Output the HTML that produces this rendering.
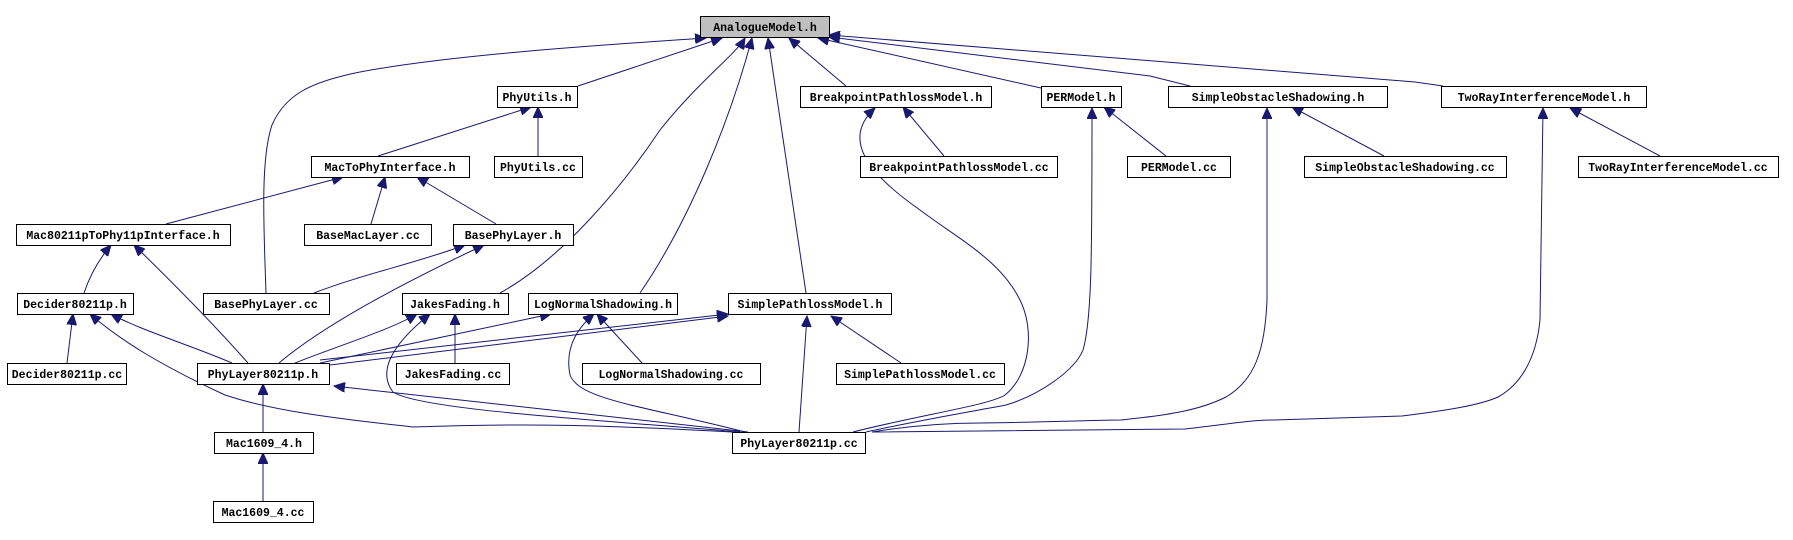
<!DOCTYPE html>
<html><head><meta charset="utf-8"><style>
html,body{margin:0;padding:0;background:#fff;}
svg{display:block}
text{font-family:"Liberation Mono","DejaVu Sans Mono",monospace;font-size:11.5px;fill:#000;font-weight:bold}
rect{fill:#fff;stroke:#000;stroke-width:1}
path{fill:none;stroke:#191970;stroke-width:1}
</style></head><body>
<svg width="1793" height="540" viewBox="0 0 1793 540" xmlns="http://www.w3.org/2000/svg">
<defs>
<marker id="a" markerUnits="userSpaceOnUse" markerWidth="12" markerHeight="10" refX="11" refY="5" orient="auto">
<path d="M0,0 L11,5 L0,10 Z" style="fill:#191970;stroke:#191970"/>
</marker>
</defs>
<g marker-end="url(#a)">
<path d="M578,86 L722,38"/>
<path d="M266,293 C264,230 260,160 272,125 C285,95 310,82 360,72 C450,55 600,45 706,38"/>
<path d="M500,293 C560,260 620,190 660,130 C700,80 735,55 745,38"/>
<path d="M640,293 C690,220 730,120 752,38"/>
<path d="M806,293 L768,38"/>
<path d="M846,86 L789,38"/>
<path d="M1041,88 L818,38"/>
<path d="M1190,86 L1150,76 L829,37"/>
<path d="M1443,86 L1415,82 L829,35"/>
<path d="M378,156 L531,107"/>
<path d="M538,156 L538,107"/>
<path d="M166,224 L343,177"/>
<path d="M371,224 L385,177"/>
<path d="M496,224 L417,177"/>
<path d="M84,293 C90,275 100,258 111,245"/>
<path d="M248,363 C210,320 170,280 134,245"/>
<path d="M314,293 C360,275 420,262 465,245"/>
<path d="M279,363 C330,320 420,275 484,245"/>
<path d="M67,363 L73,314"/>
<path d="M232,363 C190,345 140,330 111,314"/>
<path d="M732,432 C600,425 530,423 413,427 C330,418 270,410 225,395 C160,365 120,340 90,314"/>
<path d="M295,363 C340,345 390,330 417,314"/>
<path d="M455,363 L455,314"/>
<path d="M740,432 C600,420 420,410 393,392 C380,375 385,350 430,314"/>
<path d="M320,363 L551,314"/>
<path d="M642,363 L597,314"/>
<path d="M745,432 C640,405 580,400 570,375 C565,350 575,330 594,314"/>
<path d="M330,365 L728,316"/>
<path d="M320,360 L728,314"/>
<path d="M901,363 L831,316"/>
<path d="M799,432 L807,316"/>
<path d="M263,432 L263,384"/>
<path d="M748,432 C600,415 450,400 334,386"/>
<path d="M263,501 L263,453"/>
<path d="M944,156 L903,107"/>
<path d="M853,432 C920,415 990,405 1005,395 C1030,375 1035,330 1020,300 C1000,260 960,240 920,210 C870,175 840,140 875,108"/>
<path d="M1166,156 L1104,107"/>
<path d="M866,432 C920,420 980,410 1006,405 C1040,395 1075,370 1083,350 C1092,320 1092,250 1092,108"/>
<path d="M1384,156 L1292,107"/>
<path d="M872,432 C920,424 960,423 981,423 C1050,422 1100,420 1121,420 C1170,415 1200,410 1226,397 C1255,380 1265,350 1267,300 L1267,108"/>
<path d="M1660,156 L1570,108"/>
<path d="M872,432 C1000,430 1120,430 1185,429 C1230,424 1250,420 1274,420 C1330,418 1380,417 1402,416 C1450,410 1480,405 1498,397 C1520,385 1536,360 1540,320 L1543,108"/>
</g>
<g>
<rect x="700.5" y="16.5" width="129" height="21" style="fill:#bfbfbf"/><text x="765" y="31" text-anchor="middle">AnalogueModel.h</text>
<rect x="497.5" y="86.5" width="80" height="21"/><text x="537" y="101" text-anchor="middle">PhyUtils.h</text>
<rect x="800.5" y="86.5" width="191" height="21"/><text x="896" y="101" text-anchor="middle">BreakpointPathlossModel.h</text>
<rect x="1041.5" y="86.5" width="80" height="21"/><text x="1081" y="101" text-anchor="middle">PERModel.h</text>
<rect x="1168.5" y="86.5" width="219" height="21"/><text x="1278" y="101" text-anchor="middle">SimpleObstacleShadowing.h</text>
<rect x="1441.5" y="86.5" width="205" height="21"/><text x="1544" y="101" text-anchor="middle">TwoRayInterferenceModel.h</text>
<rect x="311.5" y="156.5" width="158" height="21"/><text x="390" y="171" text-anchor="middle">MacToPhyInterface.h</text>
<rect x="494.5" y="156.5" width="88" height="21"/><text x="538" y="171" text-anchor="middle">PhyUtils.cc</text>
<rect x="860.5" y="156.5" width="197" height="21"/><text x="959" y="171" text-anchor="middle">BreakpointPathlossModel.cc</text>
<rect x="1127.5" y="156.5" width="103" height="21"/><text x="1179" y="171" text-anchor="middle">PERModel.cc</text>
<rect x="1304.5" y="156.5" width="202" height="21"/><text x="1405" y="171" text-anchor="middle">SimpleObstacleShadowing.cc</text>
<rect x="1578.5" y="156.5" width="200" height="21"/><text x="1678" y="171" text-anchor="middle">TwoRayInterferenceModel.cc</text>
<rect x="16.5" y="224.5" width="214" height="21"/><text x="123" y="239" text-anchor="middle">Mac80211pToPhy11pInterface.h</text>
<rect x="304.5" y="224.5" width="127" height="21"/><text x="368" y="239" text-anchor="middle">BaseMacLayer.cc</text>
<rect x="453.5" y="224.5" width="120" height="21"/><text x="513" y="239" text-anchor="middle">BasePhyLayer.h</text>
<rect x="17.5" y="293.5" width="116" height="21"/><text x="75" y="308" text-anchor="middle">Decider80211p.h</text>
<rect x="203.5" y="293.5" width="126" height="21"/><text x="266" y="308" text-anchor="middle">BasePhyLayer.cc</text>
<rect x="402.5" y="293.5" width="106" height="21"/><text x="455" y="308" text-anchor="middle">JakesFading.h</text>
<rect x="528.5" y="293.5" width="149" height="21"/><text x="603" y="308" text-anchor="middle">LogNormalShadowing.h</text>
<rect x="728.5" y="293.5" width="163" height="21"/><text x="810" y="308" text-anchor="middle">SimplePathlossModel.h</text>
<rect x="7.5" y="363.5" width="119" height="21"/><text x="67" y="378" text-anchor="middle">Decider80211p.cc</text>
<rect x="197.5" y="363.5" width="132" height="21"/><text x="263" y="378" text-anchor="middle">PhyLayer80211p.h</text>
<rect x="396.5" y="363.5" width="113" height="21"/><text x="453" y="378" text-anchor="middle">JakesFading.cc</text>
<rect x="582.5" y="363.5" width="178" height="21"/><text x="671" y="378" text-anchor="middle">LogNormalShadowing.cc</text>
<rect x="836.5" y="363.5" width="168" height="21"/><text x="920" y="378" text-anchor="middle">SimplePathlossModel.cc</text>
<rect x="732.5" y="432.5" width="133" height="21"/><text x="799" y="447" text-anchor="middle">PhyLayer80211p.cc</text>
<rect x="214.5" y="432.5" width="99" height="21"/><text x="264" y="447" text-anchor="middle">Mac1609_4.h</text>
<rect x="213.5" y="501.5" width="100" height="21"/><text x="263" y="516" text-anchor="middle">Mac1609_4.cc</text>
</g>
</svg>
</body></html>
